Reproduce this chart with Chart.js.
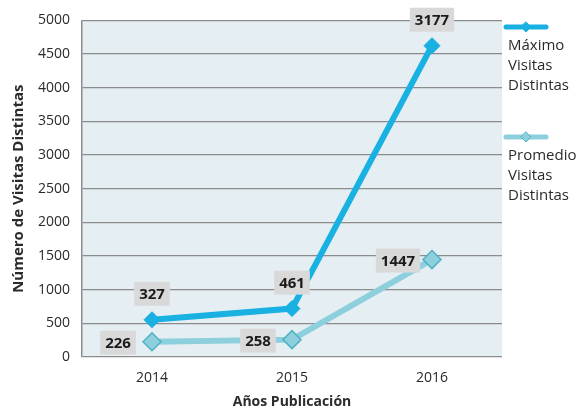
<!DOCTYPE html>
<html>
<head>
<meta charset="utf-8">
<script src="https://cdn.jsdelivr.net/npm/chart.js@4.4.0/dist/chart.umd.min.js"></script>
<style>
  html, body { margin: 0; padding: 0; background: #fff; }
  #wrap { width: 576px; height: 409px; }
</style>
</head>
<body>
<div id="wrap"><canvas id="grafico"></canvas></div>
<script>
const anos = ['2014', '2015', '2016'];
const promedioVisitas = [226, 258, 1447];
const maximoVisitas = [327, 461, 3177];
const nomeMaximo = ['Máximo', 'Visitas', 'Distintas'];
const nomePromedio = ['Promedio', 'Visitas', 'Distintas'];

const corMaximo = '#19b0e2';
const corPromedio = '#8dcfdc';
const bordaPromedio = '#4eb3c3';
const fonte = '"Open Sans", sans-serif';

// fundo da area do grafico
const fundoArea = {
    id: 'fundoArea',
    beforeDraw(chart) {
        const { ctx, chartArea: a } = chart;
        ctx.save();
        ctx.fillStyle = '#e5eef3';
        ctx.fillRect(a.left, a.top, a.right - a.left, a.bottom - a.top);
        ctx.restore();
    }
};

// caixas cinzas com os valores
const rotulos = {
    id: 'rotulos',
    afterDatasetsDraw(chart) {
        const ctx = chart.ctx;
        ctx.save();
        ctx.font = 'bold 15px ' + fonte;
        ctx.textAlign = 'center';
        ctx.textBaseline = 'middle';
        chart.data.datasets.forEach((ds, i) => {
            const meta = chart.getDatasetMeta(i);
            meta.data.forEach((pt, j) => {
                const txt = String(ds.data[j]);
                const cx = pt.x + ds.rotuloDx;
                const cy = pt.y + ds.rotuloDy;
                const w = ctx.measureText(txt).width + 10;
                const h = 24;
                ctx.fillStyle = '#d9d9d9';
                ctx.fillRect(cx - w / 2, cy - h / 2, w, h);
                ctx.fillStyle = '#1a1a1a';
                ctx.fillText(txt, cx, cy + 1);
            });
        });
        ctx.restore();
    }
};

// legenda desenhada a direita
const legendaLado = {
    id: 'legendaLado',
    afterDraw(chart) {
        const ctx = chart.ctx;
        const x0 = chart.chartArea.right + 4;
        const itens = [
            { nome: nomeMaximo, cor: corMaximo, borda: corMaximo, y: 27 },
            { nome: nomePromedio, cor: corPromedio, borda: bordaPromedio, y: 137 }
        ];
        ctx.save();
        itens.forEach(it => {
            ctx.strokeStyle = it.cor;
            ctx.lineWidth = 5;
            ctx.lineCap = 'round';
            ctx.beginPath();
            ctx.moveTo(x0, it.y);
            ctx.lineTo(x0 + 40, it.y);
            ctx.stroke();
            ctx.fillStyle = it.cor;
            ctx.strokeStyle = it.borda;
            ctx.lineWidth = 1;
            ctx.beginPath();
            ctx.moveTo(x0 + 20, it.y - 5);
            ctx.lineTo(x0 + 25, it.y);
            ctx.lineTo(x0 + 20, it.y + 5);
            ctx.lineTo(x0 + 15, it.y);
            ctx.closePath();
            ctx.fill();
            ctx.stroke();
            ctx.fillStyle = '#2b2b2b';
            ctx.font = '15px ' + fonte;
            ctx.textAlign = 'left';
            ctx.textBaseline = 'middle';
            it.nome.forEach((linha, k) => {
                ctx.fillText(linha, x0 + 2, it.y + 19 + k * 20);
            });
        });
        ctx.restore();
    }
};

new Chart(document.getElementById('grafico'), {
    type: 'line',
    data: {
        labels: anos,
        datasets: [
            {
                label: 'Promedio Visitas Distintas',
                data: promedioVisitas,
                borderColor: corPromedio,
                backgroundColor: corPromedio,
                pointBorderColor: bordaPromedio,
                pointBackgroundColor: corPromedio,
                pointStyle: 'rectRot',
                pointRadius: 9,
                pointBorderWidth: 1.5,
                borderWidth: 6,
                fill: false,
                tension: 0,
                rotuloDx: -34,
                rotuloDy: 1
            },
            {
                label: 'Máximo Visitas Distintas',
                data: maximoVisitas,
                borderColor: corMaximo,
                backgroundColor: corMaximo,
                pointBorderColor: corMaximo,
                pointBackgroundColor: corMaximo,
                pointStyle: 'rectRot',
                pointRadius: 8,
                pointBorderWidth: 1,
                borderWidth: 6,
                fill: false,
                tension: 0,
                rotuloDx: 0,
                rotuloDy: -26
            }
        ]
    },
    options: {
        responsive: true,
        maintainAspectRatio: false,
        animation: false,
        layout: { padding: { top: 19, right: 74, bottom: 0, left: 0 } },
        plugins: {
            legend: { display: false },
            tooltip: { enabled: false }
        },
        scales: {
            x: {
                offset: true,
                grid: { display: false },
                border: { display: false },
                ticks: { color: '#2b2b2b', font: { family: fonte, size: 14 }, padding: 5 },
                title: {
                    display: true,
                    text: 'Años Publicación',
                    color: '#2b2b2b',
                    font: { family: fonte, size: 14, weight: 'bold' },
                    padding: { top: 9, bottom: -1 }
                },
                afterFit(s) { s.height = 52; }
            },
            y: {
                stacked: true,
                min: 0,
                max: 5000,
                ticks: {
                    stepSize: 500,
                    color: '#2b2b2b',
                    font: { family: fonte, size: 14 },
                    padding: 12,
                    callback: v => String(v)
                },
                grid: { color: '#8c8c8c', lineWidth: 1.2, drawTicks: false },
                border: { display: true, color: '#8c8c8c', width: 1.5 },
                title: {
                    display: true,
                    text: 'Número de Visitas Distintas',
                    color: '#2b2b2b',
                    font: { family: fonte, size: 15, weight: 'bold' },
                    padding: { top: 10, bottom: 2 }
                },
                afterFit(s) { s.width = 82; }
            }
        }
    },
    plugins: [fundoArea, rotulos, legendaLado]
});
</script>
</body>
</html>
